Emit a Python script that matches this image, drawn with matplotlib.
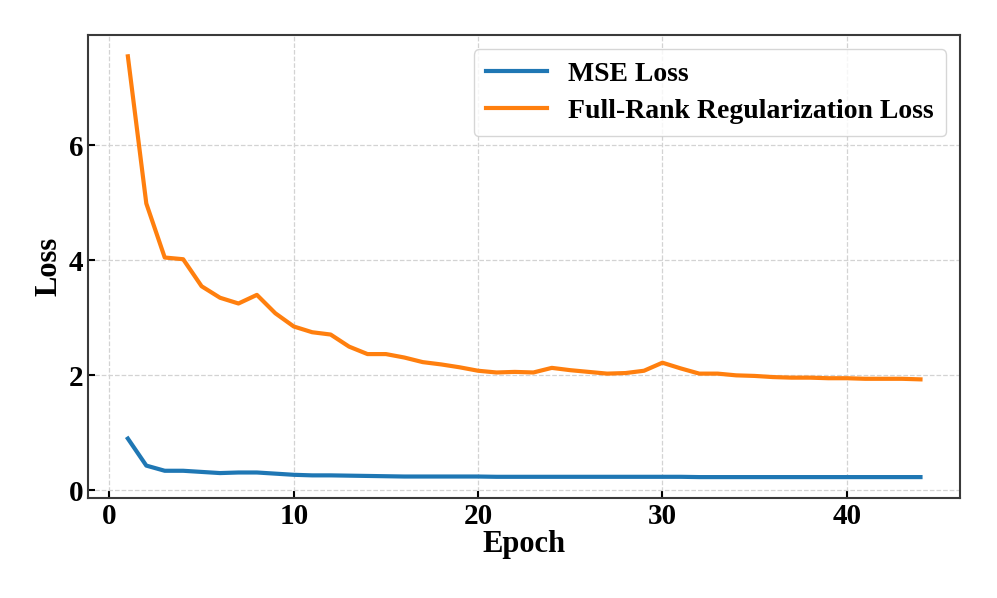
import matplotlib
matplotlib.use('Agg')
import matplotlib.pyplot as plt

# loss values
epochs = list(range(1, 45))
mse_loss = [0.90, 0.43, 0.34, 0.34, 0.32, 0.30, 0.31, 0.31, 0.29, 0.27,
            0.26, 0.26, 0.255, 0.25, 0.245, 0.24, 0.24, 0.24, 0.24, 0.24,
            0.235, 0.235, 0.235, 0.235, 0.235, 0.235, 0.235, 0.235, 0.235, 0.235,
            0.235, 0.23, 0.23, 0.23, 0.23, 0.23, 0.23, 0.23, 0.23, 0.23,
            0.23, 0.23, 0.23, 0.23]
rank_loss = [7.55, 4.99, 4.05, 4.02, 3.55, 3.35, 3.25, 3.40, 3.08, 2.85,
             2.75, 2.71, 2.50, 2.37, 2.37, 2.31, 2.23, 2.19, 2.14, 2.08,
             2.05, 2.06, 2.05, 2.13, 2.09, 2.06, 2.03, 2.04, 2.08, 2.22,
             2.12, 2.03, 2.03, 2.00, 1.99, 1.97, 1.96, 1.96, 1.95, 1.95,
             1.94, 1.94, 1.94, 1.93]

plt.rcParams['font.family'] = ['Liberation Serif', 'DejaVu Serif']
plt.rcParams['font.weight'] = 'bold'

fig = plt.figure(figsize=(9.97, 5.98), dpi=100)
ax = fig.add_axes([0.0885, 0.167, 0.8745, 0.774])

ax.plot(epochs, mse_loss, color='#1f77b4', linewidth=3, label='MSE Loss')
ax.plot(epochs, rank_loss, color='#ff7f0e', linewidth=3, label='Full-Rank Regularization Loss')

ax.set_xlabel('Epoch', fontsize=22, fontweight='bold', labelpad=0)
ax.set_ylabel('Loss', fontsize=22, fontweight='bold', labelpad=4)
ax.set_yticks([0, 2, 4, 6])
ax.set_xticks([0, 10, 20, 30, 40])
ax.tick_params(direction='in', labelsize=21, width=1.5, length=5)
for lab in ax.get_xticklabels() + ax.get_yticklabels():
    lab.set_fontweight('bold')

ax.grid(True, linestyle='--', color='#d3d3d3', linewidth=0.9)
for s in ax.spines.values():
    s.set_color('#3a3a3a')
    s.set_linewidth(1.5)

ax.legend(loc='upper right', frameon=True, handlelength=2.2, handletextpad=0.75,
          labelspacing=0.4, prop={'size': 20, 'weight': 'bold'}, borderpad=0.45,
          borderaxespad=0.5)

plt.savefig('out.png', dpi=100)
plt.close()
